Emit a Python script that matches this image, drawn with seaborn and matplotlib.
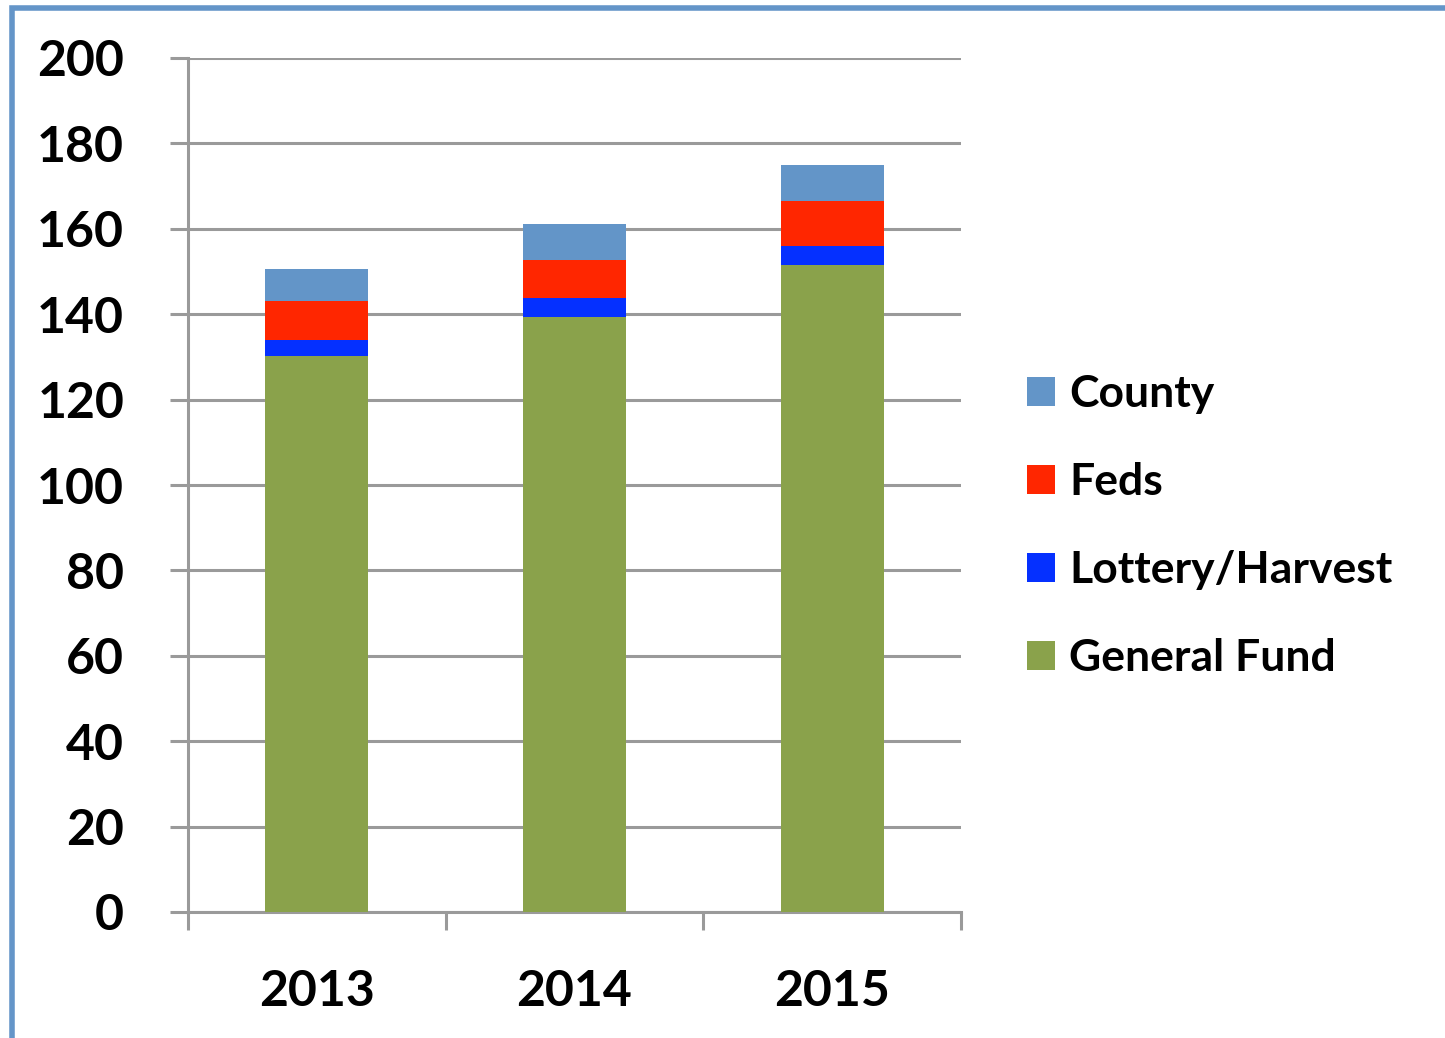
import matplotlib
matplotlib.use("Agg")
import matplotlib.pyplot as plt
import seaborn as sns
import pandas as pd
from matplotlib.patches import Patch, Rectangle

years = ["2013", "2014", "2015"]
general_fund = [130.3, 139.4, 151.5]
lottery_harvest = [3.7, 4.5, 4.4]
feds = [9.0, 8.9, 10.5]
county = [7.6, 8.4, 8.6]
series_names = ["General Fund", "Lottery/Harvest", "Feds", "County"]
colors = ["#8AA24B", "#0530FF", "#FF2600", "#6395C8"]
y_ticks = [0, 20, 40, 60, 80, 100, 120, 140, 160, 180, 200]

sns.set_theme(style="white")
plt.rcParams['font.family'] = ['Lato', 'DejaVu Sans']

df = pd.DataFrame({"year": years, "General Fund": general_fund,
                   "Lottery/Harvest": lottery_harvest, "Feds": feds, "County": county})
cum = df[series_names].cumsum(axis=1)

fig = plt.figure(figsize=(14.45, 10.38), dpi=100)
ax = fig.add_axes([188/1445, 1 - 912/1038, (961-188)/1445, (912-58)/1038])

for name, col in reversed(list(zip(series_names, colors))):
    sns.barplot(x=df["year"], y=cum[name], color=col, width=0.4, ax=ax,
                saturation=1, edgecolor="none", linewidth=0, zorder=3)

ax.set_ylim(0, 200)
ax.set_xlim(-0.5, 2.5)
ax.set_yticks(y_ticks)
ax.set_yticklabels([str(v) for v in y_ticks])
ax.set_xlabel("")
ax.set_ylabel("")
ax.grid(axis="y", color="#9A9A9A", linewidth=2.2, zorder=0)
ax.set_axisbelow(True)
for s in ["top", "right"]:
    ax.spines[s].set_visible(False)
for s in ["left", "bottom"]:
    ax.spines[s].set_color("#9A9A9A")
    ax.spines[s].set_linewidth(2.2)

ax.tick_params(axis="y", which="major", length=13, width=2.2, color="#9A9A9A",
               direction="out", pad=33, labelsize=36, left=True)
ax.set_xticks([-0.5, 0.5, 1.5, 2.5], minor=True)
ax.tick_params(axis="x", which="minor", length=13, width=2.2, color="#9A9A9A",
               direction="out", bottom=True)
ax.tick_params(axis="x", which="major", length=0, pad=41, labelsize=36)
for lab in ax.get_xticklabels() + ax.get_yticklabels():
    lab.set_fontweight("bold")
    lab.set_color("black")

handles = [Patch(facecolor=c, edgecolor="none", label=n)
           for n, c in zip(reversed(series_names), reversed(colors))]
leg = fig.legend(handles=handles, loc="center left", bbox_to_anchor=(1027/1445, 1 - 526/1038),
                 frameon=False, prop={"family": ["Lato", "DejaVu Sans"], "weight": "bold", "size": 32},
                 handlelength=0.62, handleheight=0.62, handletextpad=0.33, labelspacing=1.08,
                 borderpad=0, borderaxespad=0, labelcolor="black")

fig.patches.append(Rectangle((12/1445, -0.05), 1.2, 1 - 8/1038 + 0.05, transform=fig.transFigure,
                             fill=False, edgecolor="#6495C8", linewidth=4, zorder=10))

fig.savefig("out.png", dpi=100)
